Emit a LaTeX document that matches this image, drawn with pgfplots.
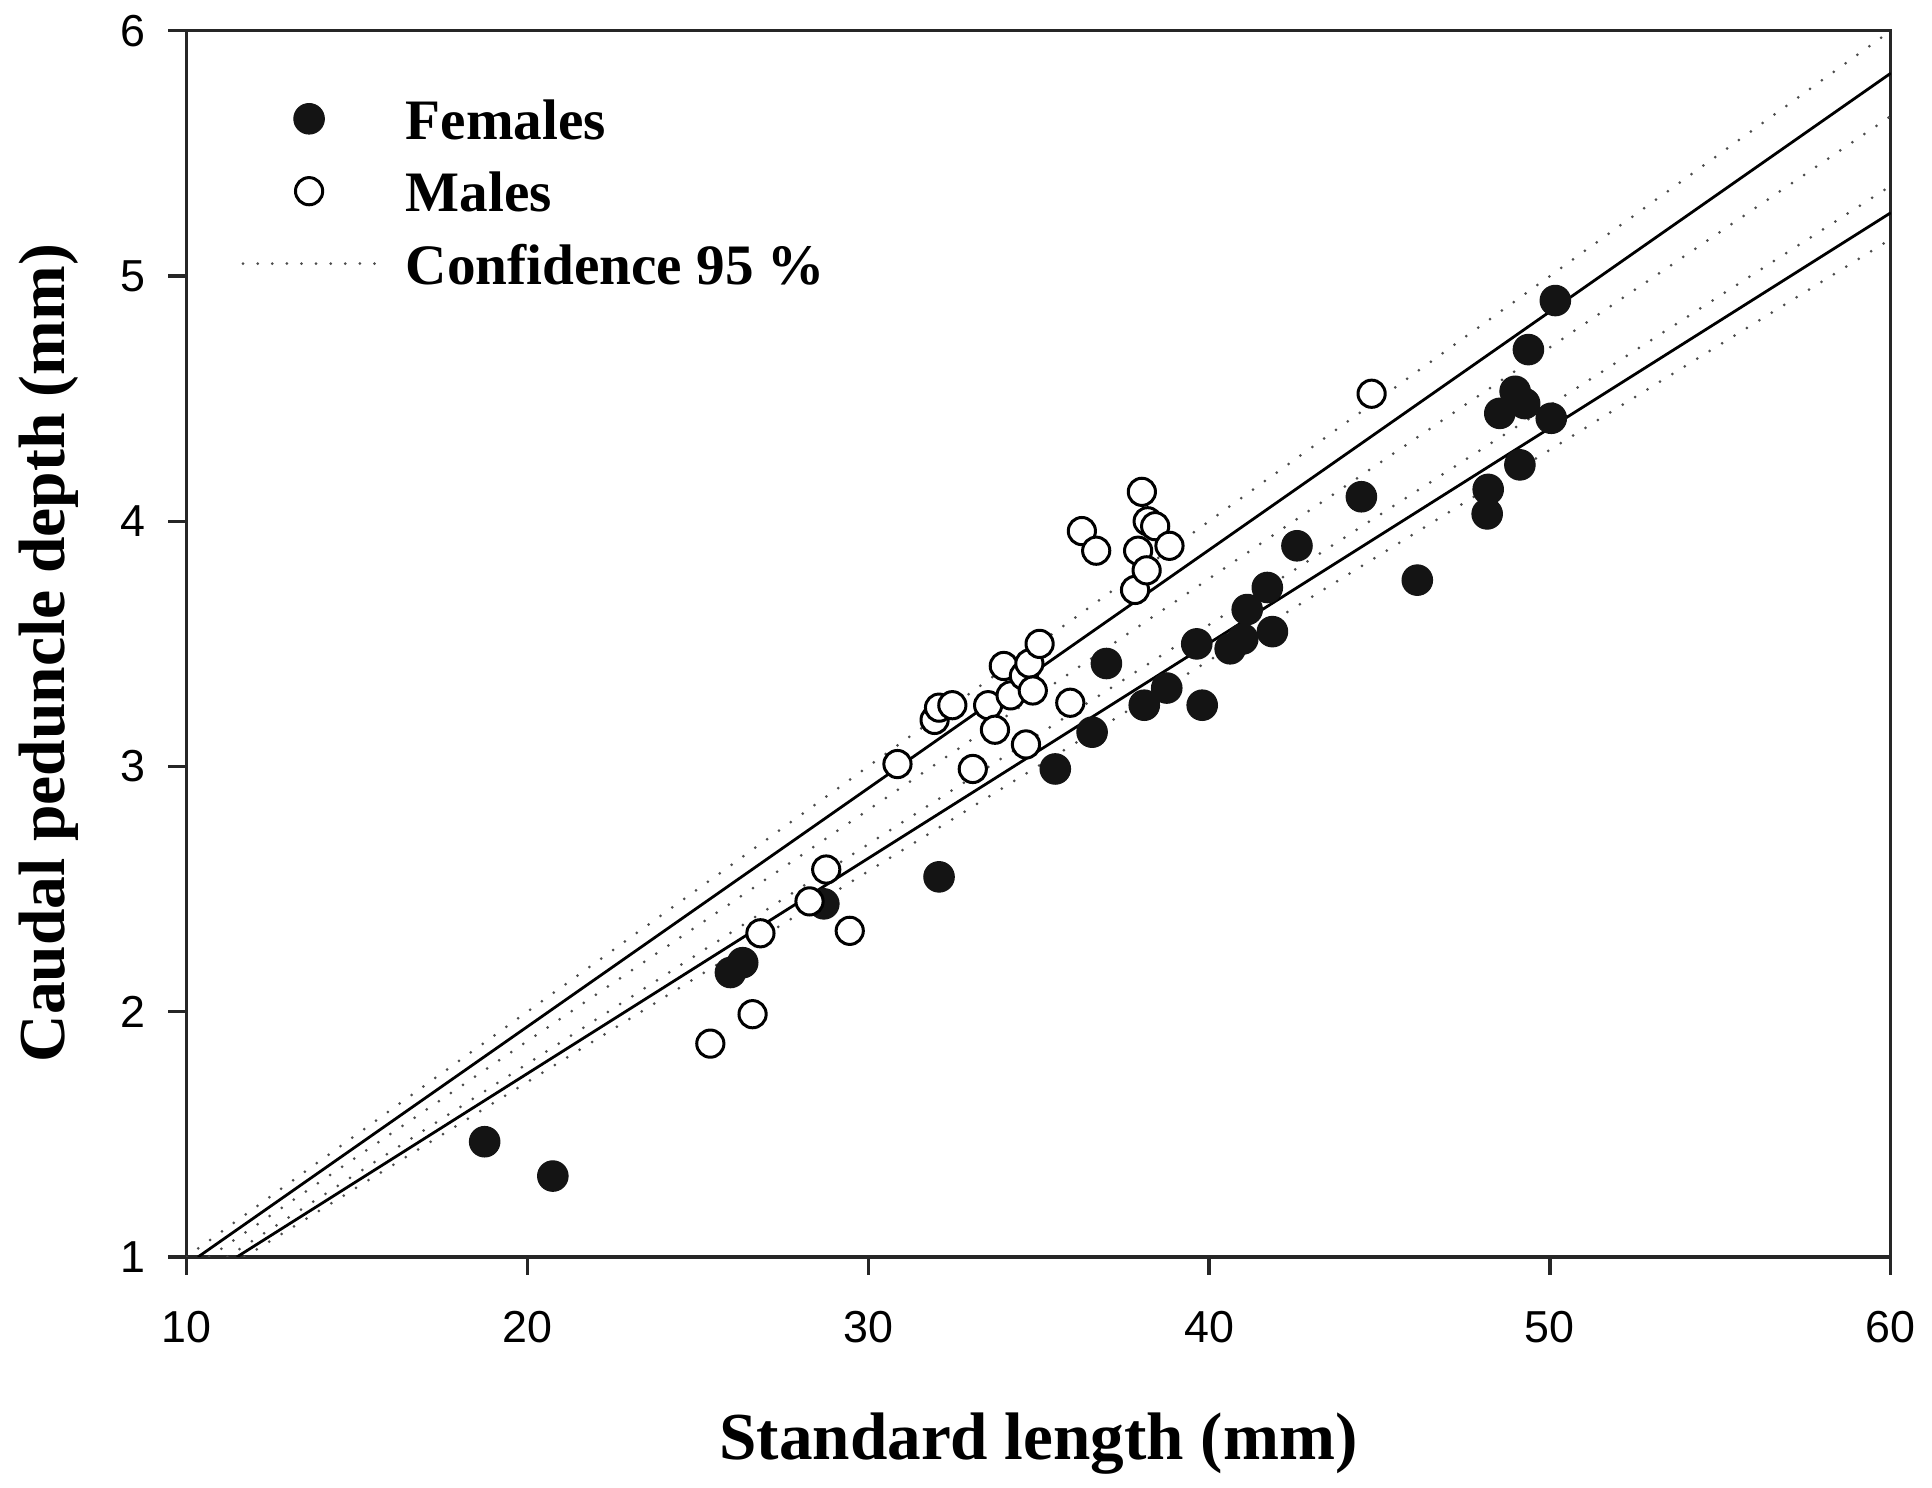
\documentclass[border=0pt]{standalone}
\usepackage{fontspec}
\setmainfont{Liberation Serif}
\newfontfamily\sansf{Liberation Sans}
\usepackage{pgfplots}
\pgfplotsset{compat=1.18}

\definecolor{dotgray}{gray}{0.3}
\definecolor{markblack}{gray}{0.08}

\begin{document}
\begin{tikzpicture}
	\path[use as bounding box] (-46.6pt,-57.75pt) rectangle (436.4pt,314.25pt);
	\begin{axis}[
			scale only axis,
			width=426.1pt,
			height=306.55pt,
			xmin=10, xmax=60,
			ymin=1, ymax=6,
			xtick={10,20,...,60},
			ytick={1,2,...,6},
			tick pos=left,
			tick align=outside,
			major tick length=4.5pt,
			axis line style={black!85, line width=0.8pt},
			every tick/.style={black!85, line width=0.8pt},
			/pgf/number format/assume math mode=true,
			ticklabel style={font=\sansf\fontsize{11.2}{13}\selectfont},
			xticklabel style={anchor=base, yshift=-17pt},
			yticklabel style={anchor=east, inner sep=0pt, xshift=-5.6pt},
			xlabel={Standard length (mm)},
			ylabel={Caudal peduncle depth (mm)},
			xlabel style={font=\bfseries\fontsize{16.8}{19}\selectfont,
					at={(axis description cs:0.5,0)}, anchor=base, yshift=-50.7pt},
			ylabel style={font=\bfseries\fontsize{16.4}{19}\selectfont,
					at={(axis description cs:-0.081,0.4924)}, anchor=center, rotate=0},
			legend cell align=left,
			legend image code/.code={
					\draw[mark repeat=2, mark phase=2, #1]
					plot coordinates {(0pt,0pt) (16.5pt,0pt) (33pt,0pt)};},
			legend style={
					at={(rel axis cs:0,1)}, anchor=north west,
					xshift=13.8pt, yshift=-16.8pt,
					draw=none, fill=none, inner sep=0pt, outer sep=0pt,
					row sep=7.7pt, column sep=7.3pt,
					font=\bfseries\fontsize{14.3}{16}\selectfont,
					nodes={inner sep=0pt, text height=10.4pt, text depth=0pt},
				},
			fitline/.style={black, line width=0.7pt},
			ciline/.style={dotgray, line width=0.75pt, line cap=round,
					dash pattern=on 0pt off 3.65pt},
		]

		% confidence limits and fitted lines
		\addplot[ciline, forget plot] coordinates {(10.0,1) (60,6.0)};
		\addplot[fitline, forget plot] coordinates {(10.34,1) (60,5.827)};
		\addplot[ciline, forget plot] coordinates {(10.67,1) (60,5.652)};
		\addplot[ciline, forget plot] coordinates {(11.2,1) (60,5.368)};
		\addplot[fitline, forget plot] coordinates {(11.48,1) (60,5.258)};
		\addplot[ciline, forget plot] coordinates {(11.7,1) (60,5.151)};

		% females
		\addplot[only marks, mark=*, mark size=3.8pt,
			mark options={fill=markblack, draw=markblack, line width=0.3pt}]
		table {
			x     y
			18.75 1.47
			20.75 1.33
			25.96 2.16
			26.32 2.20
			28.70 2.44
			32.08 2.55
			35.49 2.99
			36.57 3.14
			36.99 3.42
			38.10 3.25
			38.76 3.32
			39.64 3.50
			39.80 3.25
			40.62 3.48
			40.99 3.52
			41.12 3.64
			41.71 3.73
			41.86 3.55
			42.58 3.90
			44.47 4.10
			46.11 3.76
			48.16 4.03
			48.19 4.13
			48.53 4.44
			48.98 4.53
			49.12 4.23
			49.26 4.48
			49.37 4.70
			50.04 4.42
			50.16 4.90
		};
		\addlegendentry{Females}

		% males
		\addplot[only marks, mark=*, mark size=3.4pt,
			mark options={fill=white, draw=black, line width=0.75pt}]
		table {
			x     y
			25.37 1.87
			26.61 1.99
			26.84 2.32
			28.28 2.45
			28.77 2.58
			29.46 2.33
			30.86 3.01
			31.95 3.19
			32.08 3.24
			32.47 3.25
			33.07 2.99
			33.52 3.25
			33.72 3.15
			33.98 3.41
			34.18 3.29
			34.57 3.37
			34.63 3.09
			34.73 3.42
			34.83 3.31
			35.03 3.50
			35.93 3.26
			36.27 3.96
			36.69 3.88
			37.83 3.72
			37.92 3.88
			38.03 4.12
			38.17 3.80
			38.20 4.00
			38.42 3.98
			38.84 3.90
			44.77 4.52
		};
		\addlegendentry{Males}

		\addlegendimage{ciline}
		\addlegendentry{Confidence 95 \%}

	\end{axis}
\end{tikzpicture}
\end{document}
